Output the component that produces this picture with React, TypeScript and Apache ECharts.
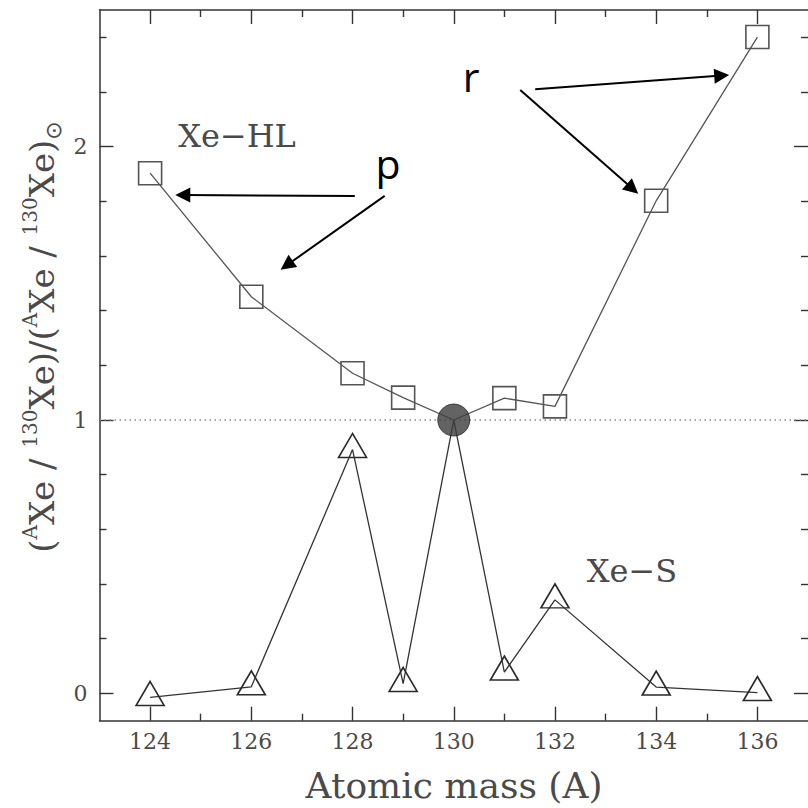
import React, { useEffect, useRef } from "react";
import * as echarts from "echarts";

// ---- data ----
const massHL = [124, 126, 128, 129, 130, 131, 132, 134, 136];
const ratioHL = [1.903, 1.451, 1.171, 1.082, 1.0, 1.08, 1.05, 1.802, 2.401];
const massS = [124, 126, 128, 129, 130, 131, 132, 134, 136];
const ratioS = [-0.015, 0.024, 0.892, 0.036, 1.0, 0.078, 0.342, 0.023, 0.003];
const solarMass = [130];
const solarRatio = [1.0];

// axis ticks / labels
const xMajor = [124, 126, 128, 130, 132, 134, 136];
const xMinor = [125, 127, 129, 131, 133, 135];
const yMajor = [0, 1, 2];
const yMinor = [0.2, 0.4, 0.6, 0.8, 1.2, 1.4, 1.6, 1.8, 2.2, 2.4];

// annotation arrows [x0, y0, x1, y1] in data units (end = arrow head)
const arrowsP = [
  [128.045, 1.82, 124.646, 1.823],
  [128.635, 1.82, 126.699, 1.566],
];
const arrowsR = [
  [131.609, 2.21, 135.295, 2.26],
  [131.314, 2.207, 133.534, 1.846],
];

const SERIF = "DejaVu Serif";
const AXC = "#333";
const TXT = "#4a4a4a";

function mkX(position: string, ticks: number[], len: number, showLine: boolean, showLabel: boolean) {
  return {
    type: "value",
    position,
    min: 123,
    max: 137,
    axisLine: { show: showLine, onZero: false, lineStyle: { color: AXC, width: 1.5 } },
    axisTick: { show: true, inside: true, length: len, customValues: ticks, lineStyle: { color: AXC, width: 1.4 } },
    axisLabel: {
      show: showLabel,
      customValues: ticks,
      fontFamily: SERIF,
      fontSize: 22,
      color: TXT,
      margin: 10,
    },
    splitLine: { show: false },
  };
}
function mkY(position: string, ticks: number[], len: number, showLine: boolean, showLabel: boolean) {
  return {
    type: "value",
    position,
    min: -0.1,
    max: 2.5,
    axisLine: { show: showLine, onZero: false, lineStyle: { color: AXC, width: 1.5 } },
    axisTick: { show: true, inside: true, length: len, customValues: ticks, lineStyle: { color: AXC, width: 1.4 } },
    axisLabel: {
      show: showLabel,
      customValues: ticks,
      fontFamily: SERIF,
      fontSize: 22,
      color: TXT,
      margin: 12,
    },
    splitLine: { show: false },
  };
}

function arrowData(list: number[][]) {
  return list.map((a) => [
    { coord: [a[0], a[1]], symbol: "none" },
    { coord: [a[2], a[3]], symbol: "triangle", symbolSize: 15 },
  ]);
}

export default function App() {
  const ref = useRef<HTMLDivElement>(null);
  useEffect(() => {
    if (!ref.current) return;
    const chart = echarts.init(ref.current, null, { renderer: "svg" });
    const hlData = massHL.map((m, i) =>
      m === 130 ? { value: [m, ratioHL[i]], symbol: "none" } : [m, ratioHL[i]]
    );
    const sData = massS.map((m, i) =>
      m === 130 ? { value: [m, ratioS[i]], symbol: "none" } : [m, ratioS[i]]
    );
    const option: any = {
      animation: false,
      backgroundColor: "#fff",
      grid: { left: 99.5, top: 10, width: 712.6, height: 710.7 },
      xAxis: [
        mkX("bottom", xMajor, 14, true, true),
        mkX("bottom", xMinor, 7, false, false),
        mkX("top", xMajor, 14, true, false),
        mkX("top", xMinor, 7, false, false),
      ],
      yAxis: [
        mkY("left", yMajor, 14, true, true),
        mkY("left", yMinor, 7, false, false),
        mkY("right", yMajor, 14, false, false),
        mkY("right", yMinor, 7, false, false),
      ],
      series: [
        {
          name: "ref",
          type: "scatter",
          data: [],
          z: 1,
          markLine: {
            silent: true,
            symbol: ["none", "none"],
            label: { show: false },
            lineStyle: { color: "#888", width: 1.5, type: [1.5, 3.5] },
            data: [{ yAxis: 1 }],
          },
        },
        {
          name: "Xe-HL",
          type: "line",
          data: hlData,
          z: 3,
          symbol: "rect",
          symbolSize: 23,
          lineStyle: { color: "#555", width: 1.3 },
          itemStyle: { color: "rgba(0,0,0,0)", borderColor: "#555", borderWidth: 1.6 },
        },
        {
          name: "Xe-S",
          type: "line",
          data: sData,
          z: 3,
          symbol: "triangle",
          symbolSize: [28, 24],
          symbolOffset: [0, -4],
          lineStyle: { color: "#333", width: 1.3 },
          itemStyle: { color: "rgba(0,0,0,0)", borderColor: "#2a2a2a", borderWidth: 1.6 },
        },
        {
          name: "solar",
          type: "scatter",
          data: solarMass.map((m, i) => [m, solarRatio[i]]),
          z: 5,
          symbol: "circle",
          symbolSize: 32,
          itemStyle: { color: "#3c3c3c", borderColor: "#222", borderWidth: 1 },
          markLine: {
            silent: true,
            symbol: ["none", "none"],
            label: { show: false },
            lineStyle: { color: "#000", width: 2, type: "solid" },
            data: [...arrowData(arrowsP), ...arrowData(arrowsR)],
          },
        },
      ],
      graphic: [
        {
          type: "text",
          x: 237,
          y: 136,
          style: { text: "Xe\u2212HL", font: `32px "${SERIF}"`, fill: TXT, align: "center", verticalAlign: "middle" },
        },
        {
          type: "text",
          x: 632,
          y: 571,
          style: { text: "Xe\u2212S", font: `32px "${SERIF}"`, fill: TXT, align: "center", verticalAlign: "middle" },
        },
        {
          type: "text",
          x: 388,
          y: 163,
          style: { text: "p", font: `41px "Open Sans"`, fill: "#000", align: "center", verticalAlign: "middle" },
        },
        {
          type: "text",
          x: 471,
          y: 76,
          style: { text: "r", font: `41px "Open Sans"`, fill: "#000", align: "center", verticalAlign: "middle" },
        },
        {
          type: "text",
          x: 454,
          y: 785,
          style: { text: "Atomic mass (A)", font: `36px "${SERIF}"`, fill: TXT, align: "center", verticalAlign: "middle" },
        },
        {
          type: "text",
          x: 42,
          y: 337,
          rotation: Math.PI / 2,
          style: {
            text: "{m|(}{s|A}{m|Xe / }{s|130}{m|Xe)/(}{s|A}{m|Xe / }{s|130}{m|Xe)}{b|\u2299}",
            align: "center",
            verticalAlign: "middle",
            fill: TXT,
            rich: {
              m: { fontFamily: SERIF, fontSize: 34, lineHeight: 44, fill: TXT },
              s: { fontFamily: SERIF, fontSize: 20, lineHeight: 22, verticalAlign: "top", fill: TXT },
              b: { fontFamily: "DejaVu Sans", fontSize: 22, lineHeight: 22, verticalAlign: "bottom", fill: TXT },
            },
          },
        },
      ],
    };
    chart.setOption(option);
    return () => chart.dispose();
  }, []);
  return (
    <div
      ref={ref}
      style={{ position: "absolute", left: 0, top: 0, width: 808, height: 808, background: "#fff" }}
    />
  );
}
